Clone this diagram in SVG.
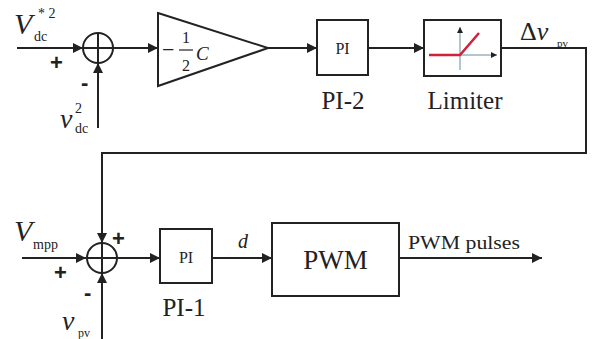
<svg xmlns="http://www.w3.org/2000/svg" width="592" height="339" viewBox="0 0 592 339">
<defs>
<marker id="arr" viewBox="0 0 10 10" refX="10" refY="5" markerWidth="10" markerHeight="10" markerUnits="userSpaceOnUse" orient="auto">
<path d="M0,0 L10,5 L0,10 z" fill="#222"/>
</marker>
<marker id="arrs" viewBox="0 0 10 10" refX="10" refY="5" markerWidth="6" markerHeight="6" markerUnits="userSpaceOnUse" orient="auto">
<path d="M0,0 L10,5 L0,10 z" fill="#222"/>
</marker>
</defs>
<style>
.ln{stroke:#222;stroke-width:2;fill:none}
.box{stroke:#222;stroke-width:2;fill:#fff}
.t{font-family:"Liberation Serif",serif;fill:#222}
.i{font-style:italic}
.s{font-family:"Liberation Sans",sans-serif;font-weight:bold;fill:#222}
</style>
<rect width="592" height="339" fill="#fff"/>

<g id="connectors">
<line class="ln" x1="17" y1="48" x2="83" y2="48" marker-end="url(#arr)"/>
<line class="ln" x1="98" y1="128" x2="98" y2="63" marker-end="url(#arr)"/>
<line class="ln" x1="113" y1="48" x2="158" y2="48" marker-end="url(#arr)"/>
<line class="ln" x1="268" y1="48" x2="317" y2="48" marker-end="url(#arr)"/>
<line class="ln" x1="368" y1="48" x2="424" y2="48" marker-end="url(#arr)"/>
<polyline class="ln" points="501,48 586,48 586,153 102,153 102,243" marker-end="url(#arr)"/>
<line class="ln" x1="22" y1="258" x2="86" y2="258" marker-end="url(#arr)"/>
<line class="ln" x1="102" y1="339" x2="102" y2="273" marker-end="url(#arr)"/>
<line class="ln" x1="117" y1="258" x2="160" y2="258" marker-end="url(#arr)"/>
<line class="ln" x1="212" y1="258" x2="272" y2="258" marker-end="url(#arr)"/>
<line class="ln" x1="399" y1="258" x2="542" y2="258" marker-end="url(#arr)"/>
</g>

<g id="sum1">
<circle class="ln" cx="98" cy="48" r="15"/>
<line class="ln" x1="83" y1="48" x2="113" y2="48" stroke-width="1"/>
<line class="ln" x1="98" y1="33" x2="98" y2="63" stroke-width="1"/>
</g>

<g id="gain">
<polygon class="box" points="158,13 268,48 158,86"/>
<text class="t" x="162" y="57" font-size="22">−</text>
<text class="t" x="186" y="43" font-size="16" text-anchor="middle">1</text>
<line x1="179" y1="50" x2="193" y2="50" stroke="#222" stroke-width="1.2"/>
<text class="t" x="186" y="71" font-size="16" text-anchor="middle">2</text>
<text class="t i" x="196" y="60" font-size="19">C</text>
</g>

<g id="pi2">
<rect class="box" x="317" y="20" width="51" height="55"/>
<text class="t" x="342.5" y="54" font-size="16" text-anchor="middle">PI</text>
<text class="t" x="343" y="109" font-size="25" text-anchor="middle">PI-2</text>
</g>

<g id="limiter">
<rect class="box" x="424" y="20" width="77" height="56"/>
<line x1="460" y1="70" x2="460" y2="27" stroke="#6a8a9a" stroke-width="1" marker-end="url(#arrs)"/>
<line x1="429" y1="55" x2="497" y2="55" stroke="#6a8a9a" stroke-width="1" marker-end="url(#arrs)"/>
<polyline points="429,55 460,55 479,33" stroke="#d0203a" stroke-width="2.5" fill="none"/>
<text class="t" x="465" y="109" font-size="25" text-anchor="middle">Limiter</text>
</g>

<g id="sum2">
<circle class="ln" cx="102" cy="258" r="15"/>
<line class="ln" x1="87" y1="258" x2="117" y2="258" stroke-width="1"/>
<line class="ln" x1="102" y1="243" x2="102" y2="273" stroke-width="1"/>
</g>

<g id="pi1">
<rect class="box" x="160" y="229" width="52" height="54"/>
<text class="t" x="186" y="263" font-size="16" text-anchor="middle">PI</text>
<text class="t" x="184" y="316" font-size="25" text-anchor="middle">PI-1</text>
</g>

<g id="pwm">
<rect class="box" x="272" y="223" width="127" height="73"/>
<text class="t" x="335.5" y="269" font-size="27" text-anchor="middle">PWM</text>
</g>

<g id="labels">
<text class="t i" x="14" y="34" font-size="30">V</text>
<text class="t" x="34" y="41" font-size="14">dc</text>
<text class="t" x="38" y="18" font-size="14">* 2</text>
<text class="s" x="50" y="70" font-size="22">+</text>
<text class="s" x="81" y="90" font-size="22">-</text>
<text class="t i" x="60" y="128" font-size="28">v</text>
<text class="t" x="75" y="113" font-size="14">2</text>
<text class="t" x="75" y="133" font-size="14">dc</text>
<text class="t" x="520" y="40" font-size="26">Δ<tspan class="i">v</tspan></text>
<text class="t" x="557" y="47" font-size="11">pv</text>
<text class="t i" x="14" y="241" font-size="30">V</text>
<text class="t" x="33" y="249" font-size="14">mpp</text>
<text class="s" x="54" y="280" font-size="22">+</text>
<text class="s" x="112" y="246" font-size="22">+</text>
<text class="s" x="84" y="300" font-size="22">-</text>
<text class="t i" x="62" y="330" font-size="28">v</text>
<text class="t" x="78" y="337" font-size="12">pv</text>
<text class="t i" x="238" y="248" font-size="20">d</text>
<text class="t" x="408" y="249" font-size="19" textLength="112" lengthAdjust="spacingAndGlyphs">PWM pulses</text>
</g>
</svg>
